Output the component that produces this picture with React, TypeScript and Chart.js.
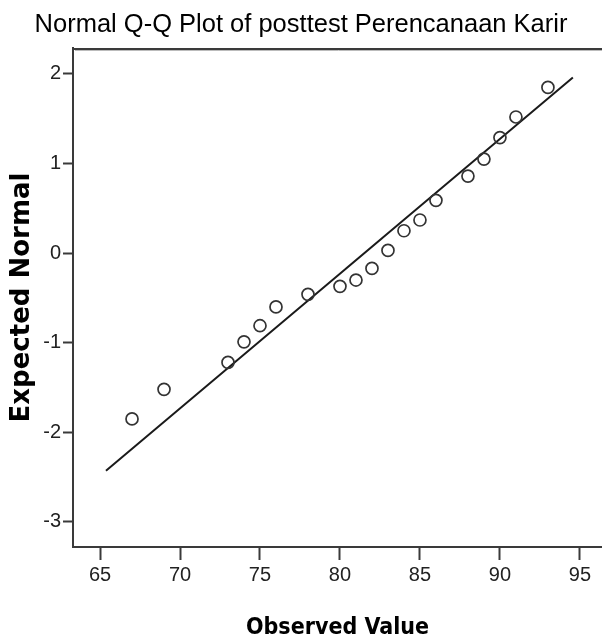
import React, { useEffect, useRef } from "react";
import { Chart, registerables } from "chart.js";

Chart.register(...registerables);

const chartTitle = "Normal Q-Q Plot of posttest Perencanaan Karir";
const xAxisTitle = "Observed Value";
const yAxisTitle = "Expected Normal";

const observedValues = [67, 69, 73, 74, 75, 76, 78, 80, 81, 82, 83, 84, 85, 86, 88, 89, 90, 91, 93];
const expectedNormal = [-1.85, -1.52, -1.22, -0.99, -0.81, -0.6, -0.46, -0.37, -0.3, -0.17, 0.03, 0.25, 0.37, 0.59, 0.86, 1.05, 1.29, 1.52, 1.85];

const lineObserved = [65.37, 94.56];
const lineExpected = [-2.43, 1.96];

const xTicks = [65, 70, 75, 80, 85, 90, 95];
const yTicks = [-3, -2, -1, 0, 1, 2];
const xRange = [63.31, 96.38];
const yRange = [-3.28, 2.29];

const frameColor = "#3a3a3a";

const topFramePlugin = {
  id: "topFrame",
  afterDraw(chart: any) {
    const { ctx, chartArea } = chart;
    ctx.save();
    ctx.strokeStyle = frameColor;
    ctx.lineWidth = 2;
    ctx.beginPath();
    ctx.moveTo(chartArea.left, chartArea.top + 1);
    ctx.lineTo(chartArea.right, chartArea.top + 1);
    ctx.stroke();
    ctx.strokeStyle = "#bbbbbb";
    ctx.lineWidth = 1;
    ctx.beginPath();
    ctx.moveTo(chartArea.left + 2, chartArea.top + 2.5);
    ctx.lineTo(chartArea.right, chartArea.top + 2.5);
    ctx.stroke();
    ctx.restore();
  },
};

export default function App() {
  const canvasRef = useRef<HTMLCanvasElement | null>(null);

  useEffect(() => {
    const canvas = canvasRef.current;
    if (!canvas) return;
    const points = observedValues.map((x, i) => ({ x, y: expectedNormal[i] }));
    const linePts = lineObserved.map((x, i) => ({ x, y: lineExpected[i] }));

    const chart = new Chart(canvas, {
      type: "scatter",
      data: {
        datasets: [
          {
            type: "line",
            data: linePts,
            borderColor: "#1a1a1a",
            borderWidth: 2,
            pointRadius: 0,
            fill: false,
            order: 2,
          } as any,
          {
            data: points,
            pointStyle: "circle",
            pointRadius: 6,
            pointBorderWidth: 1.7,
            pointBorderColor: "#333333",
            pointBackgroundColor: "rgba(0,0,0,0)",
            borderColor: "#333333",
            backgroundColor: "rgba(0,0,0,0)",
            order: 1,
          } as any,
        ],
      },
      options: {
        responsive: false,
        animation: false,
        layout: { autoPadding: false, padding: { left: 0, right: 0, top: 0, bottom: 0 } },
        plugins: {
          legend: { display: false },
          tooltip: { enabled: false },
          title: {
            display: true,
            text: chartTitle,
            color: "#000",
            font: { family: "'Liberation Sans', Arial, sans-serif", size: 25.5, weight: "normal" },
            padding: { top: 9.4, bottom: 8 },
          },
        },
        scales: {
          x: {
            type: "linear",
            min: xRange[0],
            max: xRange[1],
            afterBuildTicks: (s: any) => {
              s.ticks = xTicks.map((v) => ({ value: v }));
            },
            afterFit: (s: any) => {
              s.height = 95;
              s.paddingRight = 0;
              s.paddingLeft = 0;
            },
            grid: {
              drawOnChartArea: false,
              drawTicks: true,
              tickLength: 13,
              tickWidth: 2,
              tickColor: frameColor,
            },
            border: { display: true, color: frameColor, width: 2 },
            ticks: {
              color: "#222",
              padding: 3,
              font: { family: "'Liberation Sans Narrow', 'Liberation Sans', Arial, sans-serif", size: 20 },
            },
            title: {
              display: true,
              text: xAxisTitle,
              color: "#000",
              font: { family: "'DejaVu Sans Condensed', 'DejaVu Sans', sans-serif", size: 23, weight: "bold" },
              padding: { top: 0, bottom: 0 },
            },
          },
          y: {
            type: "linear",
            min: yRange[0],
            max: yRange[1],
            afterBuildTicks: (s: any) => {
              s.ticks = yTicks.map((v) => ({ value: v }));
            },
            afterFit: (s: any) => {
              s.width = 73;
            },
            grid: {
              drawOnChartArea: false,
              drawTicks: true,
              tickLength: 10,
              tickWidth: 2,
              tickColor: frameColor,
            },
            border: { display: true, color: frameColor, width: 2 },
            ticks: {
              color: "#222",
              padding: 2,
              font: { family: "'Liberation Sans Narrow', 'Liberation Sans', Arial, sans-serif", size: 20 },
            },
            title: {
              display: true,
              text: yAxisTitle,
              color: "#000",
              font: { family: "'DejaVu Sans', sans-serif", size: 26, weight: "bold" },
              padding: { top: 7, bottom: 0 },
            },
          },
        },
      },
      plugins: [topFramePlugin],
    });
    return () => chart.destroy();
  }, []);

  return (
    <div style={{ position: "fixed", left: 0, top: 0, width: 602, height: 642, background: "#fff" }}>
      <canvas ref={canvasRef} width={602} height={642} style={{ display: "block" }} />
    </div>
  );
}
